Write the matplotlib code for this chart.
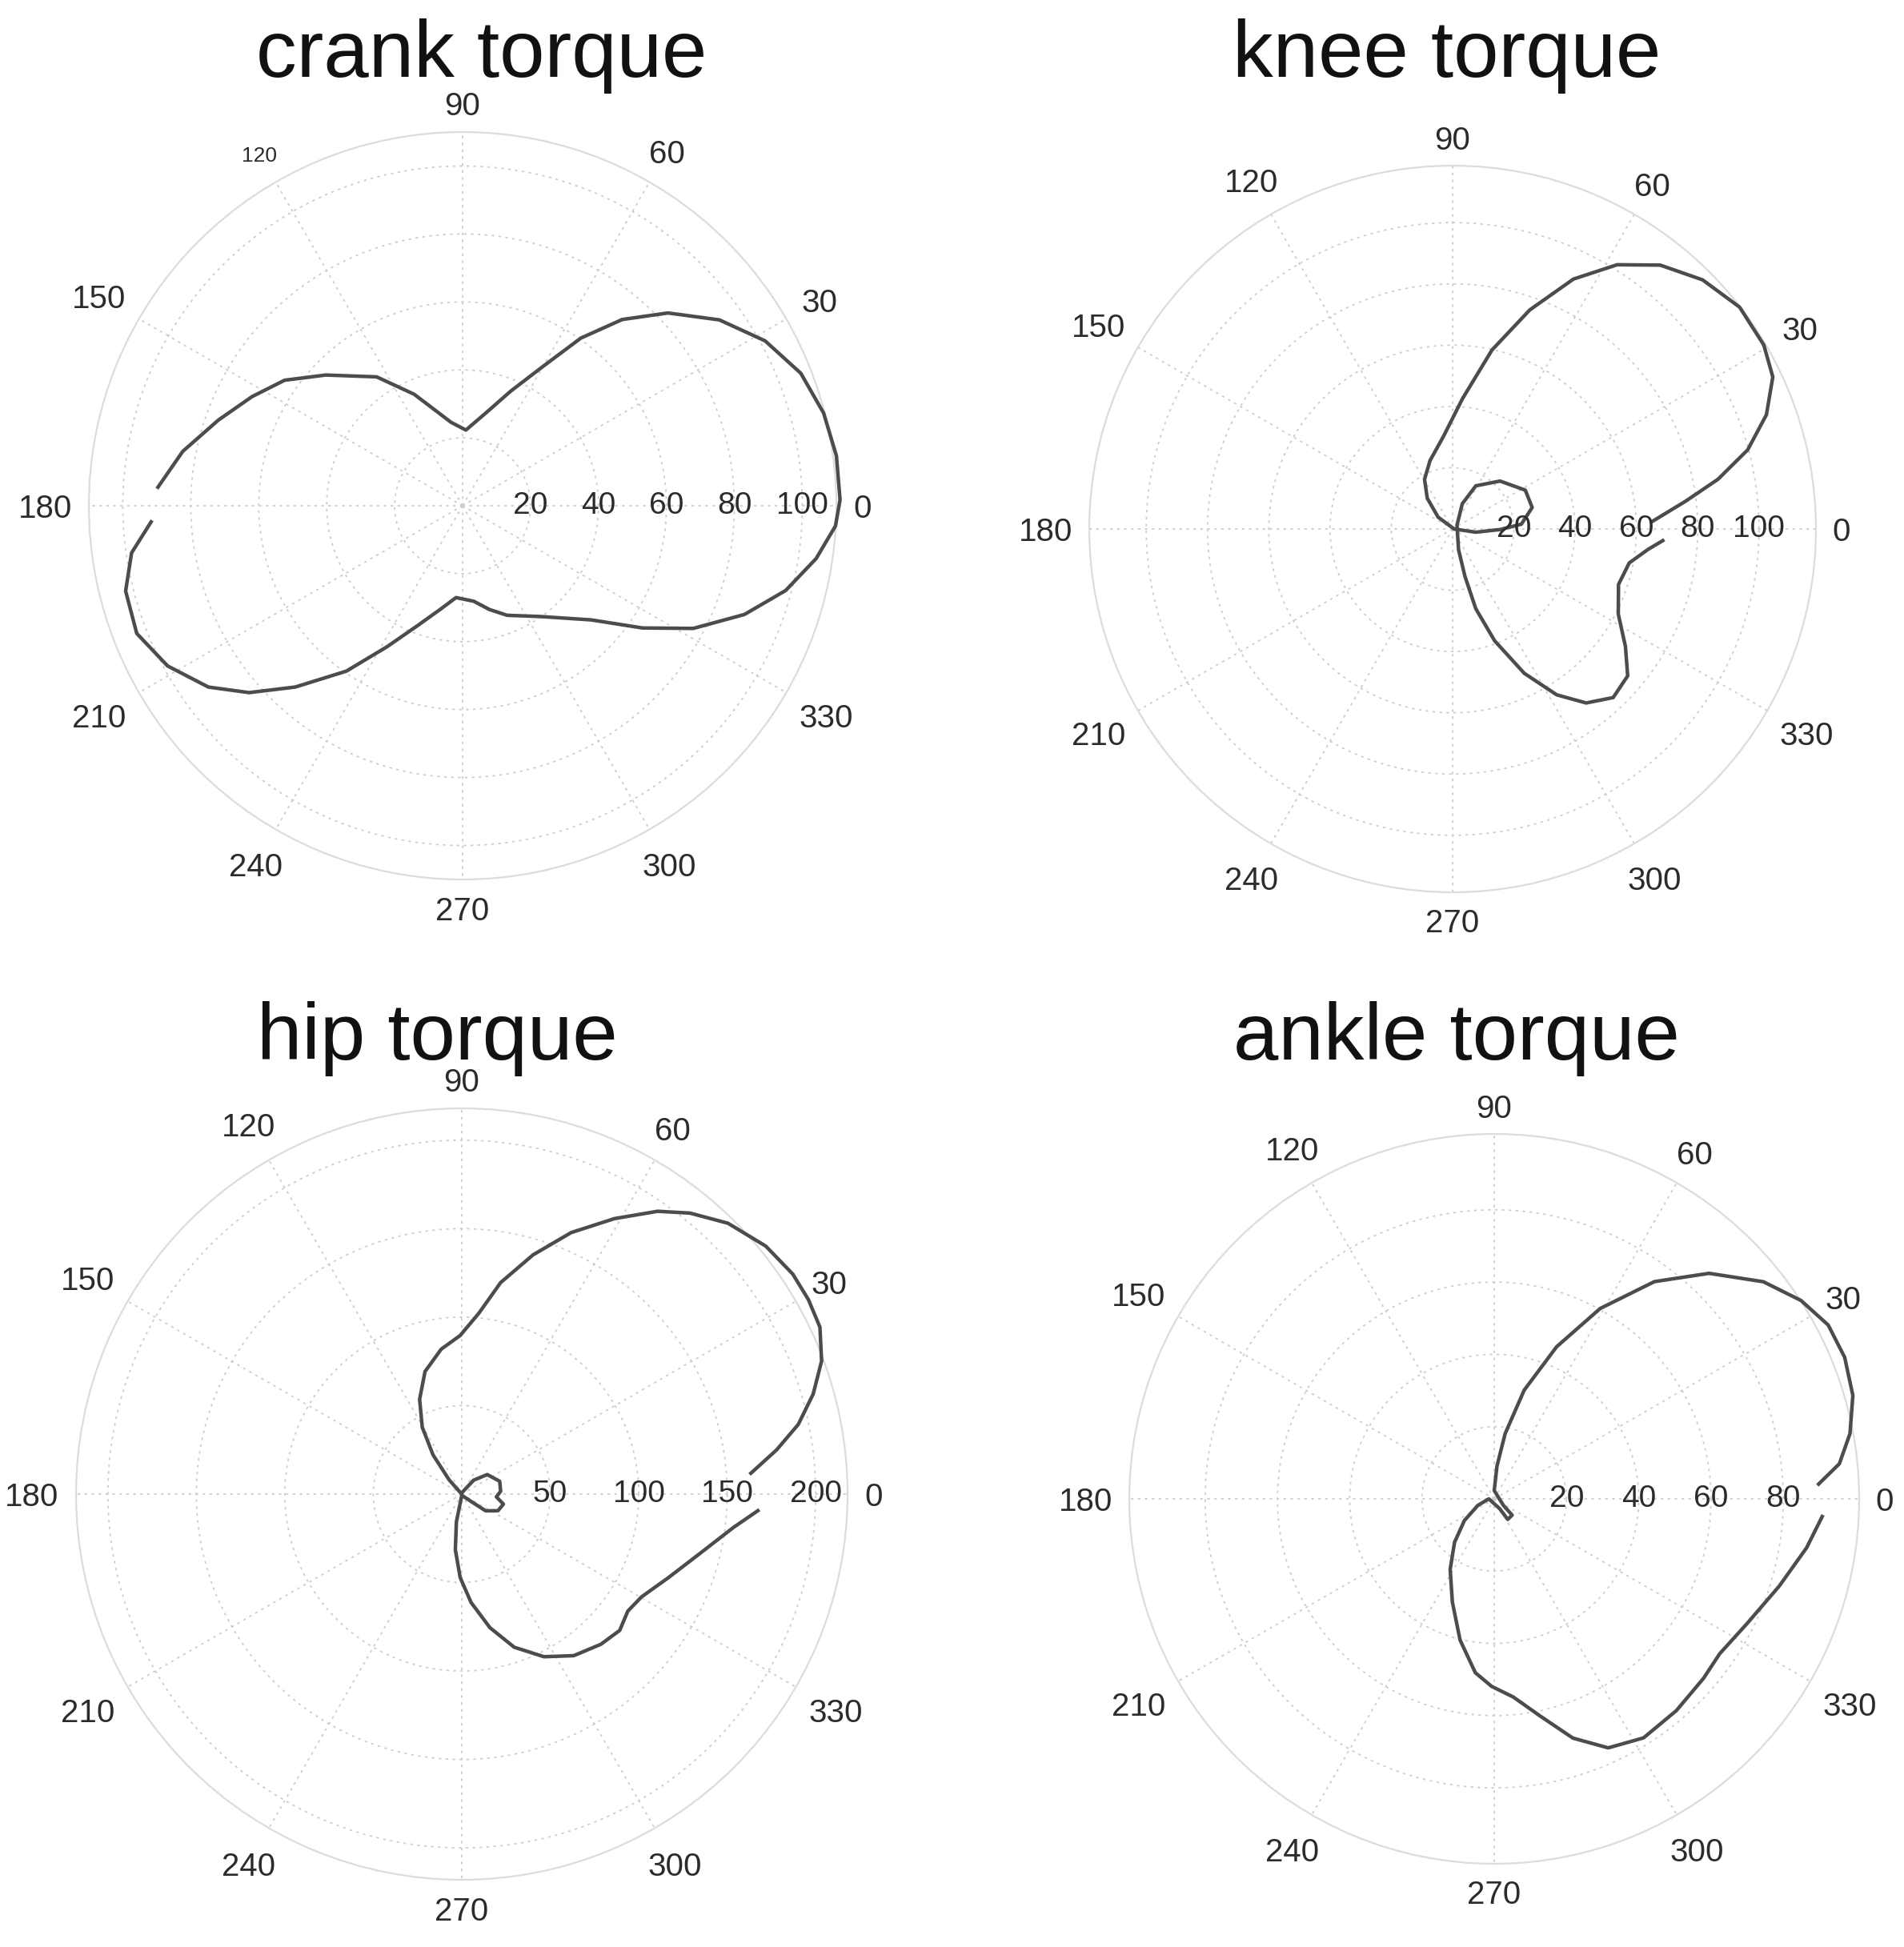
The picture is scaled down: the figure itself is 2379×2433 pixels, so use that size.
import numpy as np
import matplotlib
matplotlib.use("Agg")
import matplotlib.pyplot as plt

plt.rcParams['font.family'] = ['Liberation Sans', 'DejaVu Sans']

W, H = 2379, 2433

# ---------------- data (crank angle in degrees, torque magnitude) ----------------
crank_theta = [182.7, 188.1, 194.2, 201.4, 208.5, 215.5, 221.2, 227.3, 234.9, 241.8,
               249.5, 258.0, 265.9, 276.7, 284.4, 292.1, 305.0, 318.4, 325.8, 332.0,
               338.9, 345.3, 351.5, 356.9, 0.9, 7.6, 14.4, 21.4, 28.6, 35.9,
               43.2, 49.4, 54.8, 60.2, 67.3, 74.9, 87.5, 97.9, 103.9, 113.5,
               123.7, 136.3, 144.8, 152.6, 160.7, 169.0, 176.8]
crank_r = [91.5, 98.4, 102.3, 103.0, 98.8, 91.9, 83.5, 72.6, 59.5, 47.1,
           37.6, 31.1, 27.1, 28.3, 31.5, 34.8, 39.8, 50.6, 64.0, 76.9,
           88.9, 98.3, 105.2, 109.9, 111.1, 111.0, 109.7, 106.9, 101.4, 93.3,
           82.9, 72.2, 60.4, 47.0, 36.5, 28.9, 22.3, 24.8, 27.9, 35.8,
           45.6, 55.7, 64.1, 69.8, 76.2, 83.9, 90.1]

knee_theta = [1.9, 6.8, 10.6, 15.0, 20.0, 25.4, 30.6, 37.7, 44.9, 51.8,
              58.1, 64.2, 70.6, 77.6, 85.7, 95.6, 108.3, 119.5, 129.5, 140.8,
              0.0, 352.0, 359.3, 4.0, 15.1, 28.1, 45.3, 61.7, 69.0, 41.0,
              286.0, 284.6, 286.2, 290.6, 296.4, 302.1, 307.5, 313.6, 320.0, 325.8,
              332.8, 341.5, 349.1, 354.0, 357.1]
knee_r = [64.7, 76.6, 88.1, 99.7, 109.0, 115.7, 118.0, 118.4, 115.2, 109.6,
          101.6, 90.6, 75.8, 59.8, 42.6, 30.4, 23.5, 18.6, 13.0, 6.1,
          0.5, 7.6, 15.5, 22.5, 26.9, 26.9, 22.0, 16.0, 8.8, 1.9,
          7.0, 16.0, 27.1, 39.0, 52.6, 63.9, 71.6, 76.0, 74.6, 68.2,
          60.8, 57.1, 58.7, 64.1, 69.2]

hip_theta = [3.9, 8.0, 11.7, 15.9, 20.3, 25.0, 29.3, 33.6, 39.2, 45.5,
             50.9, 55.3, 61.0, 67.3, 73.4, 79.6, 84.6, 90.6, 98.1, 106.7,
             114.0, 120.6, 126.3, 131.8, 135.0, 49.5, 37.5, 18.7, 4.1, 355.4,
             346.4, 335.3, 324.9, 322.2, 270.0, 259.0, 263.4, 268.9, 274.9, 281.9,
             288.9, 296.8, 304.7, 312.8, 319.2, 324.8, 330.2, 338.0, 346.2, 353.0,
             357.0]
hip_r = [163.0, 179.7, 194.2, 206.5, 216.8, 223.3, 224.6, 224.6, 221.7, 214.6,
         204.6, 194.4, 178.0, 160.2, 141.1, 121.5, 102.7, 89.6, 82.7, 72.3,
         58.6, 43.9, 27.4, 10.6, 0.5, 10.3, 18.1, 22.6, 22.0, 19.6,
         24.2, 22.5, 16.5, 7.7, 0.7, 16.0, 31.7, 47.2, 61.5, 77.2,
         91.5, 103.0, 111.1, 115.7, 117.9, 114.8, 117.0, 126.0, 139.1, 154.7,
         168.4]

ankle_theta = [2.4, 5.8, 10.4, 16.1, 22.0, 27.5, 32.9, 38.9, 46.4, 53.6,
               60.9, 67.7, 74.6, 80.5, 85.2, 90.0, 324.8, 317.7, 303.3, 299.0,
               180.0, 201.8, 216.0, 227.6, 238.0, 247.9, 256.4, 263.8, 269.2, 275.5,
               282.0, 288.2, 294.6, 302.0, 310.7, 319.4, 325.5, 333.7, 343.0, 351.1,
               357.2]
ankle_r = [89.5, 96.0, 100.1, 103.3, 104.6, 104.2, 101.1, 95.7, 86.2, 74.7,
           60.3, 45.5, 31.2, 18.3, 9.1, 2.3, 3.1, 6.7, 6.8, 3.1,
           1.5, 4.9, 10.2, 16.3, 23.0, 30.8, 40.2, 48.4, 51.9, 55.1,
           61.5, 69.7, 75.8, 78.0, 77.3, 76.3, 75.7, 78.0, 82.5, 87.5,
           91.1]

titles = ['crank torque', 'knee torque', 'hip torque', 'ankle torque']
rmax_values = [110.0, 118.6, 218.0, 101.0]
ring_values = [[20, 40, 60, 80, 100], [20, 40, 60, 80, 100],
               [50, 100, 150, 200], [20, 40, 60, 80]]
angle_ticks = list(range(0, 360, 30))

series = [(crank_theta, crank_r), (knee_theta, knee_r),
          (hip_theta, hip_r), (ankle_theta, ankle_r)]

# layout (pixels): centre x, centre y, outer radius, title x, title baseline y
layout = [
    (578, 632, 467, 602, 96),
    (1815, 661, 454, 1808, 96),
    (577, 1867, 482, 546, 1324),
    (1867, 1873, 456, 1820, 1324),
]

fig = plt.figure(figsize=(W / 100, H / 100), dpi=100)
fig.patch.set_facecolor('white')

grid_col = '#cdcdcd'
line_col = '#4c4c4c'
text_col = '#2b2b2b'

for i, (title, (th, rr), rmax, rings, geo) in enumerate(
        zip(titles, series, rmax_values, ring_values, layout)):
    cx, cy, R, tx, ty = geo
    ax = fig.add_axes([(cx - R) / W, (H - cy - R) / H, 2 * R / W, 2 * R / H],
                      projection='polar')
    ax.set_facecolor('white')
    ax.plot(np.deg2rad(th), rr, color=line_col, lw=3.2, solid_capstyle='butt',
            solid_joinstyle='round', clip_on=False, zorder=5)
    ax.set_ylim(0, rmax)
    ax.set_rgrids(rings, labels=[''] * len(rings))
    ax.set_thetagrids(angle_ticks, labels=[''] * len(angle_ticks))
    ax.grid(True, color=grid_col, lw=1.3, ls=(0, (1.8, 3.0)))
    ax.tick_params(length=0, pad=0)
    ax.spines['polar'].set_edgecolor('#dcdcdc')
    ax.spines['polar'].set_linewidth(1.6)

    for v in rings:
        ax.text(0, v, str(v), ha='center', va='center', fontsize=28,
                color=text_col, zorder=6)

    px_per_unit = R / rmax
    for a in angle_ticks:
        fs = 19 if (i == 0 and a == 120) else 29
        fs_px = fs * 100 / 72
        lab = str(a)
        hw = len(lab) * 0.556 * fs_px / 2
        hh = 0.36 * fs_px
        c, s = np.cos(np.deg2rad(a)), np.sin(np.deg2rad(a))
        r_lab = 1.045 * rmax + (hw * abs(c) + hh * abs(s)) / px_per_unit
        ax.text(np.deg2rad(a), r_lab, lab, ha='center', va='center_baseline',
                fontsize=fs, color=text_col, clip_on=False)

    fig.text(tx / W, 1 - ty / H, title, ha='center', va='baseline',
             fontsize=73, color='#111111')

fig.savefig('out.png', dpi=100, facecolor='white')
